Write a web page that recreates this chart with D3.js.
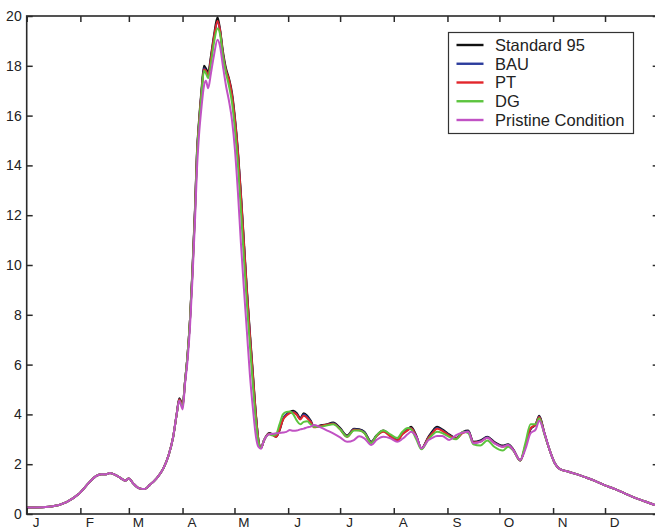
<!DOCTYPE html>
<html>
<head>
<meta charset="utf-8">
<script src="https://cdn.jsdelivr.net/npm/d3@7"></script>
<style>
  html, body { margin: 0; padding: 0; background: #fff; }
  svg { display: block; }
  text { font-family: "Liberation Sans", Arial, Helvetica, sans-serif; fill: #222; }
</style>
</head>
<body>
<svg id="chart" width="655" height="531"></svg>
<script>
// ---------- DATA ----------
const monthLabels = ["J","F","M","A","M","J","J","A","S","O","N","D"];
const monthStarts = [0,31,59,90,120,151,181,212,243,273,304,334];
const yTicks = [0,2,4,6,8,10,12,14,16,18,20];

const seriesNames = ["Standard 95","BAU","PT","DG","Pristine Condition"];

// day-of-year sample positions
const daysWinter = [0,11,15,23,30,36,40,43,46,48,53,57,59,61.5,65,68,71,75,79,82,84.6,86.6];
const daysPeak = [88.1,90.1,91.4,92.8,94.3,95.7,97.2,98.3,99.5,100.9,102.4,103.5,104.8,106.4,108.1,110.2,111.6,113.3,115.1,116.8,118.6,120.3,122.0,123.7,125.5,127.2,128.9,130.7,132.4,133.8,135.3];
const daysSummer = [137,140,142,144,146,148,150,152,154,156,158,160,162,164,166,169,173,177,181,185,189,192,195,199,202,206,210,214,217,220,222,225,228,232,234,237,240,244,248,252,255,258,262,266,270,275,278,281,285,288,291,294,296,299,302];
const daysTail = [305,308,313,316.6,322.4,328.2,334,339.8,345.6,351.4,357.2,363,365];

// shared winter and tail values (all scenarios coincide)
const winterValues = [0.26,0.28,0.31,0.48,0.8,1.26,1.52,1.6,1.6,1.65,1.5,1.34,1.43,1.23,1.03,1.0,1.16,1.43,1.84,2.37,3.1,4.0];
const tailValues = [2.04,1.8,1.7,1.62,1.48,1.33,1.15,1.0,0.82,0.65,0.5,0.36,0.32];

// spring peak
const peakStd  = [4.65,4.4,5.3,6.3,7.8,9.8,12.3,14.5,15.8,17.0,18.0,17.9,17.75,18.4,19.2,19.95,19.5,18.6,17.9,17.5,16.9,15.9,14.6,12.9,10.9,9.0,7.3,5.6,4.0,3.0,2.65];
const peakBAU  = [4.6,4.35,5.3,6.3,7.8,9.7,12.2,14.4,15.7,16.9,17.9,17.8,17.65,18.3,19.1,19.75,19.45,18.5,17.8,17.4,16.8,15.8,14.5,12.8,10.8,8.9,7.2,5.5,3.95,2.98,2.65];
const peakPT   = [4.6,4.35,5.3,6.3,7.8,9.7,12.2,14.4,15.7,16.9,17.85,17.8,17.6,18.3,19.1,19.8,19.45,18.5,17.8,17.45,16.8,15.8,14.5,12.8,10.8,8.9,7.2,5.5,3.95,2.98,2.65];
const peakDG   = [4.55,4.3,5.3,6.3,7.8,9.7,12.1,14.3,15.6,16.8,17.8,17.7,17.5,18.1,18.9,19.5,19.3,18.4,17.7,17.2,16.5,15.4,14.0,12.2,10.2,8.4,6.8,5.1,3.7,2.9,2.65];
const peakPristine = [4.55,4.2,5.2,6.1,7.5,9.4,11.8,13.8,15.2,16.3,17.2,17.4,17.1,17.7,18.4,19.05,18.8,18.0,17.2,16.6,15.8,14.6,12.9,10.9,9.0,7.3,5.6,4.2,3.1,2.7,2.62];

// summer / autumn
const summerStd = [2.95,3.25,3.2,3.1,3.35,3.8,4.0,4.1,4.15,4.05,3.85,4.05,3.95,3.75,3.5,3.55,3.6,3.67,3.45,3.15,3.42,3.4,3.3,2.9,3.15,3.35,3.15,2.97,3.25,3.4,3.5,3.15,2.64,3.1,3.3,3.5,3.4,3.2,3.05,3.3,3.35,2.9,2.95,3.1,2.9,2.75,2.8,2.6,2.15,2.7,3.4,3.6,3.95,3.25,2.57];
const summerBAU = [2.95,3.22,3.18,3.12,3.4,3.82,4.0,4.08,4.1,4.0,3.82,4.0,3.9,3.72,3.5,3.52,3.58,3.64,3.42,3.12,3.4,3.38,3.28,2.88,3.13,3.33,3.14,2.96,3.22,3.38,3.45,3.12,2.63,3.07,3.25,3.45,3.36,3.17,3.04,3.28,3.32,2.88,2.92,3.08,2.88,2.72,2.78,2.58,2.15,2.72,3.42,3.6,3.92,3.24,2.57];
const summerPT  = [2.95,3.22,3.18,3.1,3.38,3.78,3.95,4.05,4.08,3.98,3.8,3.95,3.85,3.7,3.48,3.52,3.58,3.62,3.4,3.1,3.38,3.36,3.25,2.86,3.12,3.3,3.12,2.95,3.2,3.36,3.44,3.1,2.63,3.06,3.22,3.42,3.34,3.15,3.03,3.26,3.3,2.87,2.9,3.06,2.86,2.7,2.76,2.57,2.15,2.75,3.45,3.6,3.9,3.23,2.57];
const summerDG  = [2.95,3.2,3.15,3.2,3.6,4.0,4.1,4.12,4.0,3.75,3.6,3.7,3.72,3.6,3.5,3.5,3.55,3.6,3.4,3.1,3.35,3.35,3.25,2.85,3.15,3.35,3.2,3.05,3.3,3.45,3.4,3.0,2.6,3.0,3.15,3.3,3.25,3.1,3.0,3.3,3.25,2.8,2.75,2.95,2.7,2.55,2.7,2.55,2.15,2.85,3.6,3.6,3.85,3.2,2.57];
const summerPristine = [2.95,3.2,3.22,3.24,3.25,3.27,3.3,3.37,3.34,3.35,3.4,3.43,3.48,3.51,3.57,3.5,3.37,3.24,3.08,2.9,2.97,3.12,3.04,2.77,2.97,3.1,3.04,2.9,3.02,3.2,3.3,3.1,2.64,2.97,3.05,3.13,3.13,2.97,3.17,3.27,3.3,2.84,2.9,3.06,2.85,2.7,2.77,2.57,2.17,2.6,3.24,3.4,3.75,3.24,2.57];

const days = [...daysWinter, ...daysPeak, ...daysSummer, ...daysTail];
const standard95 = [...winterValues, ...peakStd, ...summerStd, ...tailValues];
const bau        = [...winterValues, ...peakBAU, ...summerBAU, ...tailValues];
const pt         = [...winterValues, ...peakPT, ...summerPT, ...tailValues];
const dg         = [...winterValues, ...peakDG, ...summerDG, ...tailValues];
const pristine   = [...winterValues, ...peakPristine, ...summerPristine, ...tailValues];

const seriesValues = [standard95, bau, pt, dg, pristine];
const seriesColors = ["#111111","#2b3c9c","#e2262b","#5cc43e","#c152c4"];

// ---------- LAYOUT ----------
const svg = d3.select("#chart");
const plotLeft = 26.7, plotRight = 658.7, plotTop = 16, plotBottom = 514;

const x = d3.scaleLinear().domain([0, 365]).range([plotLeft, plotRight]);
const y = d3.scaleLinear().domain([0, 20]).range([plotBottom, plotTop]);

// series lines
const line = d3.line()
  .x((d, i) => x(days[i]))
  .y(d => y(d))
  .curve(d3.curveMonotoneX);

const gLines = svg.append("g");
seriesValues.forEach((vals, k) => {
  gLines.append("path")
    .datum(vals)
    .attr("d", line)
    .attr("fill", "none")
    .attr("stroke", seriesColors[k])
    .attr("stroke-width", 2)
    .attr("stroke-linejoin", "round");
});

// axes (ticks inward, MATLAB style)
const axisColor = "#2a2a2a";
const gx = svg.append("g").attr("transform", `translate(0,${plotBottom})`)
  .call(d3.axisBottom(x).tickValues(monthStarts).tickSize(-6).tickPadding(3.5)
    .tickFormat((d, i) => monthLabels[i]));
gx.selectAll("text").attr("x", 9).style("font-size", "13.5px");

svg.append("g").attr("transform", `translate(0,${plotTop})`)
  .call(d3.axisTop(x).tickValues(monthStarts).tickSize(-6).tickFormat(""));

const gy = svg.append("g").attr("transform", `translate(${plotLeft},0)`)
  .call(d3.axisLeft(y).tickValues(yTicks).tickSize(-6).tickPadding(5));
gy.selectAll("text").style("font-size", "14px");

svg.append("g").attr("transform", `translate(${plotRight},0)`)
  .call(d3.axisRight(y).tickValues(yTicks).tickSize(-6).tickFormat(""));

svg.selectAll(".domain").remove();
svg.selectAll(".tick line").attr("stroke", axisColor).attr("stroke-width", 1.5);
svg.selectAll(".tick text").attr("fill", "#222");

svg.append("rect")
  .attr("x", plotLeft).attr("y", plotTop)
  .attr("width", plotRight - plotLeft).attr("height", plotBottom - plotTop)
  .attr("fill", "none").attr("stroke", axisColor).attr("stroke-width", 1.6);

// legend
const lg = svg.append("g");
lg.append("rect")
  .attr("x", 448.5).attr("y", 32.5).attr("width", 185).attr("height", 101)
  .attr("fill", "#fff").attr("stroke", "#333").attr("stroke-width", 1.2);
seriesNames.forEach((name, k) => {
  const yy = 45 + k * 18.75;
  lg.append("line")
    .attr("x1", 456.5).attr("x2", 483.5).attr("y1", yy).attr("y2", yy)
    .attr("stroke", seriesColors[k]).attr("stroke-width", 2.4);
  lg.append("text")
    .attr("x", 495).attr("y", yy).attr("dy", "0.36em")
    .style("font-size", "16.5px")
    .text(name);
});
</script>
</body>
</html>
